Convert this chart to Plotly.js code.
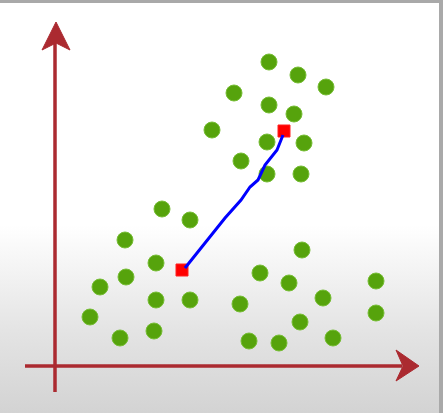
<!DOCTYPE html>
<html>
<head>
<meta charset="utf-8">
<script src="https://cdn.plot.ly/plotly-3.0.1.min.js"></script>
<style>
  html, body { margin: 0; padding: 0; }
  #chart {
    width: 443px; height: 413px;
    background: linear-gradient(to bottom, #ffffff 0px, #ffffff 225px, #e4e4e4 330px, #d3d3d3 413px);
  }
</style>
</head>
<body>
<div id="chart"></div>
<script>
// Data points (arbitrary units, origin at the axes crossing)
const pointsX = [21.3, 24.2, 27.0, 17.8, 21.3, 23.8, 15.6, 21.1, 24.8, 18.5, 21.1, 24.5,
                 10.6, 13.4, 6.9, 24.6, 10.0, 7.0, 20.4, 23.3, 32.0, 4.4, 10.0, 13.4,
                 18.4, 26.7, 3.4, 32.0, 24.4, 6.4, 9.8, 19.3, 22.3, 27.7];
const pointsY = [30.4, 29.1, 27.9, 27.3, 26.1, 25.2, 23.6, 22.4, 22.3, 20.5, 19.2, 19.2,
                 15.7, 14.6, 12.6, 11.6, 10.3, 8.9, 9.3, 8.3, 8.5, 7.9, 6.6, 6.6,
                 6.2, 6.8, 4.9, 5.3, 4.4, 2.8, 3.5, 2.5, 2.3, 2.8];
// Two red (centroid) markers
const centroidX = [12.6, 22.8];
const centroidY = [9.6, 23.5];
// Hand-drawn blue path between the centroids
const pathX = [12.9, 15.4, 16.9, 18.5, 19.4, 20.2, 20.9, 22.1, 22.7];
const pathY = [9.8, 12.9, 14.8, 16.6, 17.9, 18.6, 20.1, 21.6, 23.1];

const axisColor = '#ab2a30';

const traces = [
  { x: pointsX, y: pointsY, type: 'scatter', mode: 'markers',
    marker: { size: 16, color: '#56a30c', line: { width: 1, color: '#76bd34' } },
    hoverinfo: 'skip', showlegend: false },
  { x: centroidX, y: centroidY, type: 'scatter', mode: 'markers',
    marker: { size: 12, symbol: 'square', color: '#ff0000', line: { width: 1, color: '#ff2020' } },
    hoverinfo: 'skip', showlegend: false },
  { x: pathX, y: pathY, type: 'scatter', mode: 'lines',
    line: { color: '#0000ff', width: 3 },
    hoverinfo: 'skip', showlegend: false }
];

const layout = {
  width: 443, height: 413,
  margin: { l: 0, r: 0, t: 0, b: 0, pad: 0 },
  paper_bgcolor: 'rgba(0,0,0,0)',
  plot_bgcolor: 'rgba(0,0,0,0)',
  xaxis: { range: [-5.6, 38.7], visible: false, fixedrange: true },
  yaxis: { range: [-4.7, 36.6], visible: false, fixedrange: true },
  showlegend: false,
  shapes: [
    // vertical axis shaft
    { type: 'line', xref: 'x', yref: 'y', x0: -0.1, x1: -0.1, y0: -2.6, y1: 32.4,
      line: { color: axisColor, width: 3.5 }, layer: 'below' },
    // horizontal axis shaft
    { type: 'line', xref: 'x', yref: 'y', x0: -3.1, x1: 34.6, y0: 0, y1: 0,
      line: { color: axisColor, width: 3.5 }, layer: 'below' },
    // vertical arrow head
    { type: 'path', xref: 'x', yref: 'y',
      path: 'M 0 34.4 L -1.4 31.6 L 0 32.3 L 1.4 31.6 Z',
      fillcolor: axisColor, line: { color: axisColor, width: 1 }, layer: 'below' },
    // horizontal arrow head
    { type: 'path', xref: 'x', yref: 'y',
      path: 'M 36.3 0 L 34.0 1.6 L 34.7 0 L 34.0 -1.5 Z',
      fillcolor: axisColor, line: { color: axisColor, width: 1 }, layer: 'below' },
    // frame: top and right gray bars
    { type: 'rect', xref: 'paper', yref: 'paper', x0: 0, x1: 1, y0: 1 - 3 / 413, y1: 1,
      fillcolor: '#a9a9a9', line: { width: 0 } },
    { type: 'rect', xref: 'paper', yref: 'paper', x0: 1 - 4 / 443, x1: 1, y0: 0, y1: 1,
      fillcolor: '#a9a9a9', line: { width: 0 } }
  ]
};

Plotly.newPlot('chart', traces, layout, { staticPlot: true, displayModeBar: false });
</script>
</body>
</html>
